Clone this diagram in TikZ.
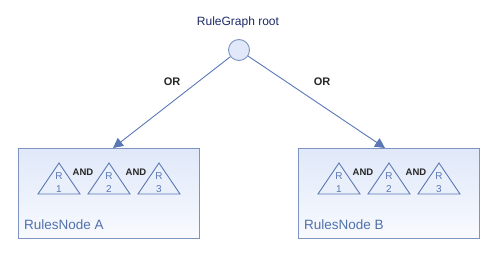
\documentclass[tikz,border=0pt]{standalone}
\usepackage{fontspec}
\setmainfont{Liberation Sans}
\usetikzlibrary{arrows.meta,shapes.geometric}

\definecolor{edgeblue}{HTML}{5B78B5}
\definecolor{boxline}{HTML}{7D94C2}
\definecolor{boxtop}{HTML}{E0E8F9}
\definecolor{boxbot}{HTML}{F8FAFE}
\definecolor{navytext}{HTML}{1C2A66}
\definecolor{labelblue}{HTML}{5070AC}
\definecolor{trifill}{HTML}{EAF0FB}

\tikzset{
  rulesbox/.style={draw=boxline, line width=1.3pt, top color=boxtop, bottom color=boxbot,
    minimum width=181pt, minimum height=90pt, inner sep=0pt},
  boxlabel/.style={text=labelblue, font=\fontsize{13.5}{15}\selectfont, anchor=west, inner sep=0pt},
  ruletri/.style={draw=edgeblue, line width=0.9pt, fill=trifill},
  trichar/.style={text=edgeblue, font=\fontsize{10}{11}\selectfont, inner sep=0pt},
  andlabel/.style={text=black!85, font=\bfseries\fontsize{9.5}{10}\selectfont, inner sep=0pt},
  orlabel/.style={text=black!85, font=\bfseries\fontsize{11}{12}\selectfont, inner sep=0pt},
  link/.style={draw=edgeblue, line width=0.9pt, -{Triangle[length=10pt,width=10pt]}},
  rootcirc/.style={circle, draw=boxline, line width=0.9pt, fill=boxtop, minimum size=21pt, inner sep=0pt},
}

\begin{document}
\begin{tikzpicture}[x=1pt,y=-1pt]
  \useasboundingbox (0,0) rectangle (499,256);

  % root of the rule graph
  \node[rootcirc] (root) at (239,50) {};
  \node[text=navytext, font=\fontsize{12}{13}\selectfont, inner sep=0pt] (rootlbl) at (238,22) {RuleGraph root};

  % the two rule containers
  \node[rulesbox, anchor=north west] (boxA) at (18,148) {};
  \node[rulesbox, anchor=north west] (boxB) at (298,148) {};
  \node[boxlabel] (lblA) at (24,225) {RulesNode A};
  \node[boxlabel] (lblB) at (304,225) {RulesNode B};

  % three rules inside each container
  \foreach \b/\ox in {A/0,B/280}{
    \foreach \i/\cx in {1/59,2/109,3/159}{
      \draw[ruletri] (\cx+\ox-21,194) -- (\cx+\ox,163) -- (\cx+\ox+21,194) -- cycle;
      \node[trichar] (r\b\i) at (\cx+\ox,176) {R};
      \node[trichar] (n\b\i) at (\cx+\ox,189) {\i};
    }
    \node[andlabel] (and\b1) at (83+\ox,172) {AND};
    \node[andlabel] (and\b2) at (136+\ox,172) {AND};
  }

  % OR links from the root
  \coordinate (tipA) at (113,148);
  \coordinate (tipB) at (385,148);
  \draw[link] (root) -- (tipA);
  \draw[link] (root) -- (tipB);
  \node[orlabel] (orA) at (172,82) {OR};
  \node[orlabel] (orB) at (322,82) {OR};
\end{tikzpicture}
\end{document}
